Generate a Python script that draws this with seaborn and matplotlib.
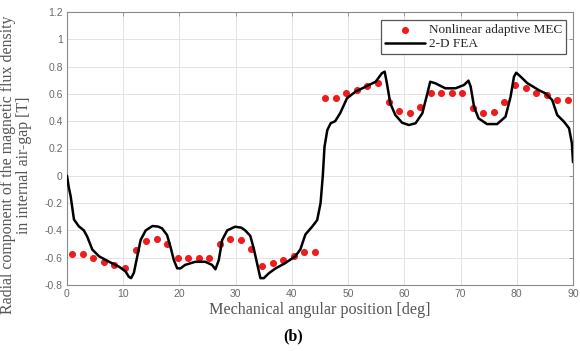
import numpy as np
import pandas as pd
import matplotlib
matplotlib.use("Agg")
import matplotlib.pyplot as plt
import seaborn as sns

# Nonlinear adaptive MEC (red points)
mec_x = [0.94, 2.81, 4.69, 6.56, 8.44, 10.31, 12.19, 14.06, 15.94, 17.81, 19.69, 21.56,
         23.44, 25.31, 27.19, 29.06, 30.94, 32.81, 34.69, 36.56, 38.44, 40.31, 42.19, 44.06,
         45.94, 47.81, 49.69, 51.56, 53.44, 55.31, 57.19, 59.06, 60.94, 62.81, 64.69, 66.56,
         68.44, 70.31, 72.19, 74.06, 75.94, 77.81, 79.69, 81.56, 83.44, 85.31, 87.19, 89.06]
mec_y = [-0.57, -0.57, -0.60, -0.63, -0.65, -0.675, -0.54, -0.475, -0.46, -0.50, -0.60, -0.60,
         -0.60, -0.60, -0.50, -0.46, -0.47, -0.535, -0.66, -0.64, -0.617, -0.59, -0.56, -0.56,
         0.572, 0.572, 0.604, 0.628, 0.658, 0.678, 0.543, 0.472, 0.462, 0.502, 0.604, 0.604,
         0.604, 0.604, 0.50, 0.46, 0.465, 0.54, 0.663, 0.64, 0.61, 0.595, 0.555, 0.555]

# 2-D FEA (black line)
fea_x = [0.0, 0.3, 0.65, 1.24, 2.1, 3.0, 3.6, 4.5, 5.7, 7.5, 9.25, 10.4, 11.0, 11.4, 11.9,
         12.5, 13.1, 14.0, 15.2, 16.2, 16.9, 17.8, 18.4, 19.0, 19.6, 20.2, 21.0, 22.8, 24.6,
         25.8, 26.4, 27.0, 27.6, 28.5, 29.9, 31.0, 31.7, 32.6, 33.2, 33.8, 34.4, 35.0, 35.9,
         37.1, 38.8, 40.6, 41.5, 42.4, 43.6, 44.5, 45.1, 45.5, 45.8, 46.3, 46.9, 47.7, 48.6,
         49.8, 51.3, 53.1, 54.9, 56.0, 56.5, 56.9, 57.5, 58.4, 59.6, 60.8, 62.0, 63.2, 64.1,
         64.6, 65.5, 67.3, 69.1, 70.6, 71.4, 71.8, 72.4, 73.2, 74.7, 76.5, 78.0, 78.9, 79.5,
         79.9, 80.7, 81.9, 83.9, 85.1, 86.3, 87.2, 88.4, 89.3, 89.8, 90.0]
fea_y = [0.0, -0.08, -0.15, -0.32, -0.37, -0.40, -0.446, -0.54, -0.59, -0.63, -0.666, -0.70,
         -0.74, -0.75, -0.71, -0.59, -0.47, -0.40, -0.368, -0.372, -0.385, -0.434, -0.52,
         -0.617, -0.678, -0.678, -0.653, -0.63, -0.63, -0.653, -0.685, -0.617, -0.47, -0.40,
         -0.373, -0.38, -0.40, -0.44, -0.53, -0.64, -0.75, -0.75, -0.714, -0.678, -0.64, -0.59,
         -0.54, -0.43, -0.373, -0.324, -0.20, 0.0, 0.213, 0.335, 0.385, 0.40, 0.46, 0.568,
         0.616, 0.653, 0.689, 0.751, 0.763, 0.678, 0.531, 0.445, 0.389, 0.372, 0.385, 0.458,
         0.604, 0.689, 0.678, 0.641, 0.641, 0.665, 0.697, 0.653, 0.506, 0.421, 0.379, 0.379,
         0.433, 0.58, 0.726, 0.755, 0.726, 0.678, 0.628, 0.604, 0.555, 0.445, 0.396, 0.348,
         0.238, 0.10]

x_ticks = [0, 10, 20, 30, 40, 50, 60, 70, 80, 90]
y_ticks = [-0.8, -0.6, -0.4, -0.2, 0, 0.2, 0.4, 0.6, 0.8, 1, 1.2]
y_tick_labels = ["-0.8", "-0.6", "-0.4", "-0.2", "0", "0.2", "0.4", "0.6", "0.8", "1", "1.2"]

sns.set_style("whitegrid", {"grid.color": "#e3e3e3", "axes.edgecolor": "#8a8a8a"})
plt.rcParams["font.family"] = ["Liberation Sans", "DejaVu Sans"]

fig = plt.figure(figsize=(5.8, 3.51), dpi=100)
ax = fig.add_axes([67 / 580, 1 - 285 / 351, (573 - 67) / 580, (285 - 12) / 351])

mec_df = pd.DataFrame({"x": mec_x, "y": mec_y})
fea_df = pd.DataFrame({"x": fea_x, "y": fea_y})

sns.scatterplot(data=mec_df, x="x", y="y", ax=ax, color="#ee1c1c", s=26, linewidth=0,
                label="Nonlinear adaptive MEC", zorder=3)
sns.lineplot(data=fea_df, x="x", y="y", ax=ax, color="black", linewidth=1.8, sort=False,
             estimator=None, label="2-D FEA", zorder=4)

ax.set_xlim(0, 90)
ax.set_ylim(-0.8, 1.2)
ax.set_xticks(x_ticks)
ax.set_yticks(y_ticks)
ax.set_yticklabels(y_tick_labels)
ax.tick_params(axis="both", which="both", direction="in", length=3, width=0.6,
               colors="#8a8a8a", labelcolor="#6a6a6a", labelsize=7.5, top=True, right=True,
               pad=3)
for sp in ax.spines.values():
    sp.set_linewidth(0.8)
    sp.set_color("#8a8a8a")
ax.grid(True, color="#e3e3e3", linewidth=0.7)

ax.set_xlabel("Mechanical angular position [deg]", family="Liberation Serif", fontsize=11.6,
              color="#555555", labelpad=2)
ylab = ax.set_ylabel("Radial component of the magnetic flux density\nin internal air-gap [T]",
                     family="Liberation Serif", fontsize=11.4, color="#555555",
                     linespacing=1.0)
ylab.set_verticalalignment("center")
ax.yaxis.set_label_coords(-0.1, 0.44)

leg = ax.legend(loc="upper right", bbox_to_anchor=(1 - 7 / 506, 1 - 8 / 273),
                borderaxespad=0, frameon=True, fancybox=False, framealpha=1,
                edgecolor="#555555", prop={"family": "Liberation Serif", "size": 9.5},
                handlelength=3.0, handletextpad=0.3, borderpad=0.3, labelspacing=0.15)
leg.get_frame().set_linewidth(0.9)

fig.text(293 / 580, 1 - 336 / 351, "(b)", family="Liberation Serif", fontweight="bold",
         fontsize=11.5, ha="center", va="center", color="black")

fig.savefig("out.png", dpi=100)
